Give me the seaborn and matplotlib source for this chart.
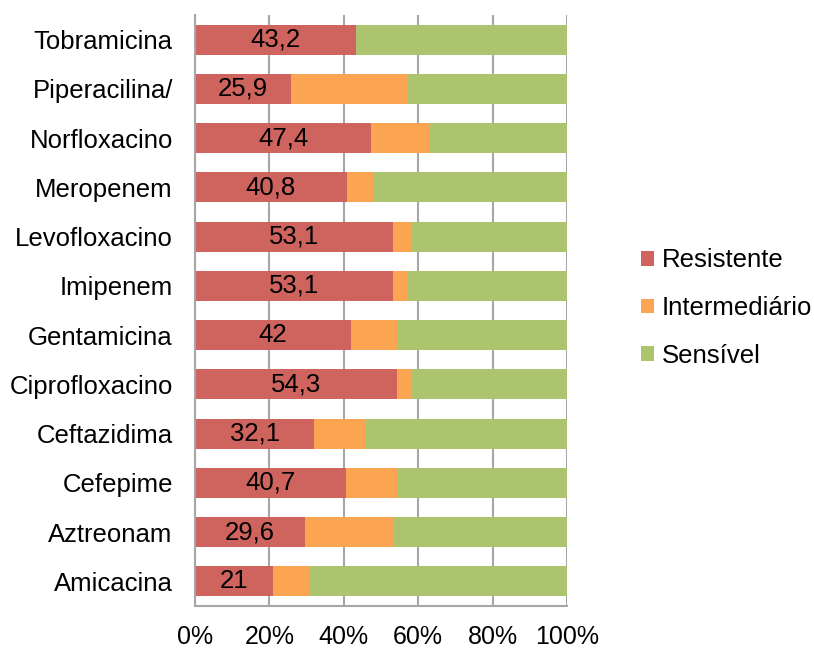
import matplotlib
matplotlib.use("Agg")
import matplotlib.pyplot as plt
from matplotlib.patches import Patch
import seaborn as sns
import pandas as pd

antibioticos = ["Tobramicina", "Piperacilina/", "Norfloxacino", "Meropenem",
                "Levofloxacino", "Imipenem", "Gentamicina", "Ciprofloxacino",
                "Ceftazidima", "Cefepime", "Aztreonam", "Amicacina"]
resistente = [43.2, 25.9, 47.4, 40.8, 53.1, 53.1, 42.0, 54.3, 32.1, 40.7, 29.6, 21.0]
intermediario = [0.0, 31.0, 15.9, 7.1, 4.9, 3.8, 12.2, 3.8, 13.6, 13.5, 23.9, 9.9]
sensivel = [56.8, 43.1, 36.7, 52.1, 42.0, 43.1, 45.8, 41.9, 54.3, 45.8, 46.5, 69.1]

series = ["Resistente", "Intermediário", "Sensível"]
cores = ["#cf645f", "#fba452", "#abc46d"]

df = pd.DataFrame({"antibiotico": antibioticos, "Resistente": resistente,
                   "Intermediário": intermediario, "Sensível": sensivel})
total = df[series].sum(axis=1)
df["pct_r"] = df["Resistente"] / total * 100
df["pct_ri"] = (df["Resistente"] + df["Intermediário"]) / total * 100
df["pct_all"] = 100.0

sns.set_theme(style="white")
plt.rcParams["font.family"] = ["Liberation Sans", "DejaVu Sans"]
plt.rcParams["text.color"] = "black"
plt.rcParams["xtick.color"] = "black"
plt.rcParams["ytick.color"] = "black"

FS = 18.5

fig = plt.figure(figsize=(8.14, 6.49), dpi=100)
ax = fig.add_axes([195 / 814, 43 / 649, 372 / 814, 591 / 649])

# stacked bars: draw cumulative totals back to front
for col, cor in zip(["pct_all", "pct_ri", "pct_r"], cores[::-1]):
    sns.barplot(data=df, x=col, y="antibiotico", color=cor, width=0.61,
                orient="h", ax=ax, zorder=3, saturation=1, linewidth=0)

for i, (v, p) in enumerate(zip(df["Resistente"], df["pct_r"])):
    txt = f"{v:g}".replace(".", ",")
    ax.text(p / 2, i, txt, ha="center", va="center", fontsize=FS,
            color="black", zorder=5)

ax.set_xlim(0, 100)
ax.set_ylim(len(antibioticos) - 0.5, -0.5)
ax.set_xticks([0, 20, 40, 60, 80, 100])
ax.set_xticklabels([f"{t}%" for t in [0, 20, 40, 60, 80, 100]], fontsize=18)
ax.tick_params(axis="x", pad=14, length=0, labelcolor="black")
ax.tick_params(axis="y", pad=16, length=0, labelsize=FS, labelcolor="black")
ax.set_xlabel("")
ax.set_ylabel("")
ax.xaxis.grid(True, color="#a6a6a6", linewidth=1.5, zorder=0)
ax.yaxis.grid(False)
for s in ["top", "right"]:
    ax.spines[s].set_visible(False)
for s in ["left", "bottom"]:
    ax.spines[s].set_color("#a6a6a6")
    ax.spines[s].set_linewidth(1.5)
    ax.spines[s].set_zorder(4)

handles = [Patch(facecolor=c, edgecolor="none") for c in cores]
fig.legend(handles, series, loc="center left", bbox_to_anchor=(641 / 814, 1 - 308 / 649),
           frameon=False, fontsize=FS, handlelength=0.5, handleheight=0.5,
           handletextpad=0.3, labelspacing=0.92, borderaxespad=0, borderpad=0)

fig.savefig("out.png", dpi=100)
